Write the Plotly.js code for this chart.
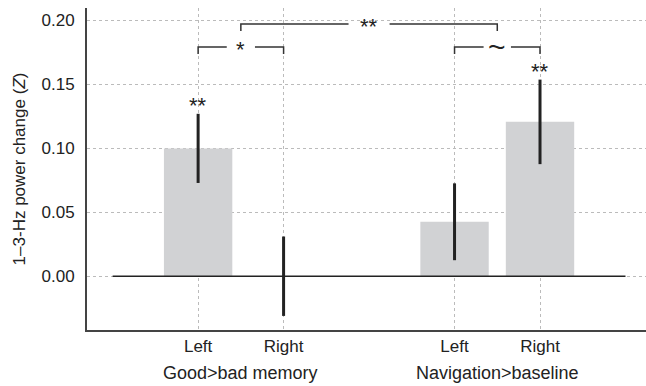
<!DOCTYPE html>
<html>
<head>
<meta charset="utf-8">
<script src="https://cdn.plot.ly/plotly-3.0.1.min.js"></script>
<style>html,body{margin:0;padding:0;background:#fff;}#chart{width:646px;height:386px;}</style>
</head>
<body>
<div id="chart"></div>
<script>
// ---- data ----
const categories = ['Left', 'Right', 'Left', 'Right'];
const xPos = [0, 1, 3, 4];
const values = [0.0998, 0.0, 0.0425, 0.1205];
const errors = [0.027, 0.031, 0.030, 0.033];
const barSig = ['**', '', '', '**'];
const groupLabels = ['Good>bad memory', 'Navigation>baseline'];
const groupCenters = [0.5, 3.5];
const yTicks = [0.00, 0.05, 0.10, 0.15, 0.20];
const baselineX = [-1, 5];
const bracketX0 = [0, 0.5, 3];
const bracketX1 = [1, 3.5, 4];
const bracketY = [0.179, 0.197, 0.179];
const bracketLabels = ['*', '**', '~'];
const bracketGap = [0.165, 0.24, 0.16];

const ink = '#222';
const font = 'Liberation Sans, Arial, Helvetica, sans-serif';

const traces = [];
traces.push({
  type: 'bar', x: xPos, y: values, width: 0.8,
  marker: {color: '#d1d2d4', line: {width: 0}},
  error_y: {type: 'data', array: errors, visible: true, thickness: 3, width: 0, color: ink},
  hoverinfo: 'skip', showlegend: false
});
traces.push({
  type: 'scatter', mode: 'lines', x: baselineX, y: [0, 0],
  line: {color: ink, width: 1.6}, hoverinfo: 'skip', showlegend: false
});
const legDrop = 0.0055;
for (let i = 0; i < bracketX0.length; i++) {
  const mid = (bracketX0[i] + bracketX1[i]) / 2;
  const g = bracketGap[i];
  traces.push({
    type: 'scatter', mode: 'lines',
    x: [bracketX0[i], bracketX0[i], mid - g, null, mid + g, bracketX1[i], bracketX1[i]],
    y: [bracketY[i] - legDrop, bracketY[i], bracketY[i], null, bracketY[i], bracketY[i], bracketY[i] - legDrop],
    line: {color: '#333', width: 1.5}, hoverinfo: 'skip', showlegend: false, connectgaps: false
  });
}

const annotations = [];
for (let i = 0; i < bracketLabels.length; i++) {
  const isTilde = bracketLabels[i] === '~';
  annotations.push({
    x: (bracketX0[i] + bracketX1[i]) / 2, y: bracketY[i], xref: 'x', yref: 'y',
    text: bracketLabels[i], showarrow: false, xanchor: 'center', yanchor: 'middle',
    yshift: isTilde ? 0 : -3,
    font: {family: font, size: isTilde ? 30 : 22, color: ink}
  });
}
for (let i = 0; i < barSig.length; i++) {
  if (!barSig[i]) continue;
  annotations.push({
    x: xPos[i], y: values[i] + errors[i], xref: 'x', yref: 'y',
    text: barSig[i], showarrow: false, xanchor: 'center', yanchor: 'middle',
    yshift: 8, font: {family: font, size: 22, color: ink}
  });
}
for (let i = 0; i < groupLabels.length; i++) {
  annotations.push({
    x: groupCenters[i], y: -0.134, xref: 'x', yref: 'paper',
    text: groupLabels[i], showarrow: false, xanchor: 'center', yanchor: 'middle',
    font: {family: font, size: 18, color: ink}
  });
}

const layout = {
  width: 646, height: 386,
  margin: {l: 87, r: 0, t: 8, b: 56},
  paper_bgcolor: '#fff', plot_bgcolor: '#fff',
  font: {family: font, size: 17, color: ink},
  showlegend: false,
  xaxis: {
    range: [-1.3, 5.24], tickvals: xPos, ticktext: categories,
    showgrid: true, gridcolor: '#bbb', griddash: 'dot', gridwidth: 1,
    showline: true, linecolor: '#444', linewidth: 2,
    zeroline: false, ticks: '',
    tickfont: {family: font, size: 17, color: ink}, fixedrange: true
  },
  yaxis: {
    range: [-0.042, 0.2094], tickvals: yTicks, tickformat: '.2f',
    showgrid: true, gridcolor: '#bbb', griddash: 'dot', gridwidth: 1,
    showline: true, linecolor: '#444', linewidth: 2,
    zeroline: false, ticks: 'outside', ticklen: 7, tickcolor: 'rgba(0,0,0,0)',
    tickfont: {family: font, size: 17, color: ink},
    title: {text: '1–3-Hz power change (<i>Z</i>)', font: {family: font, size: 17, color: ink}, standoff: 12},
    fixedrange: true
  },
  annotations: annotations
};

Plotly.newPlot('chart', traces, layout, {displayModeBar: false, staticPlot: true});
</script>
</body>
</html>
